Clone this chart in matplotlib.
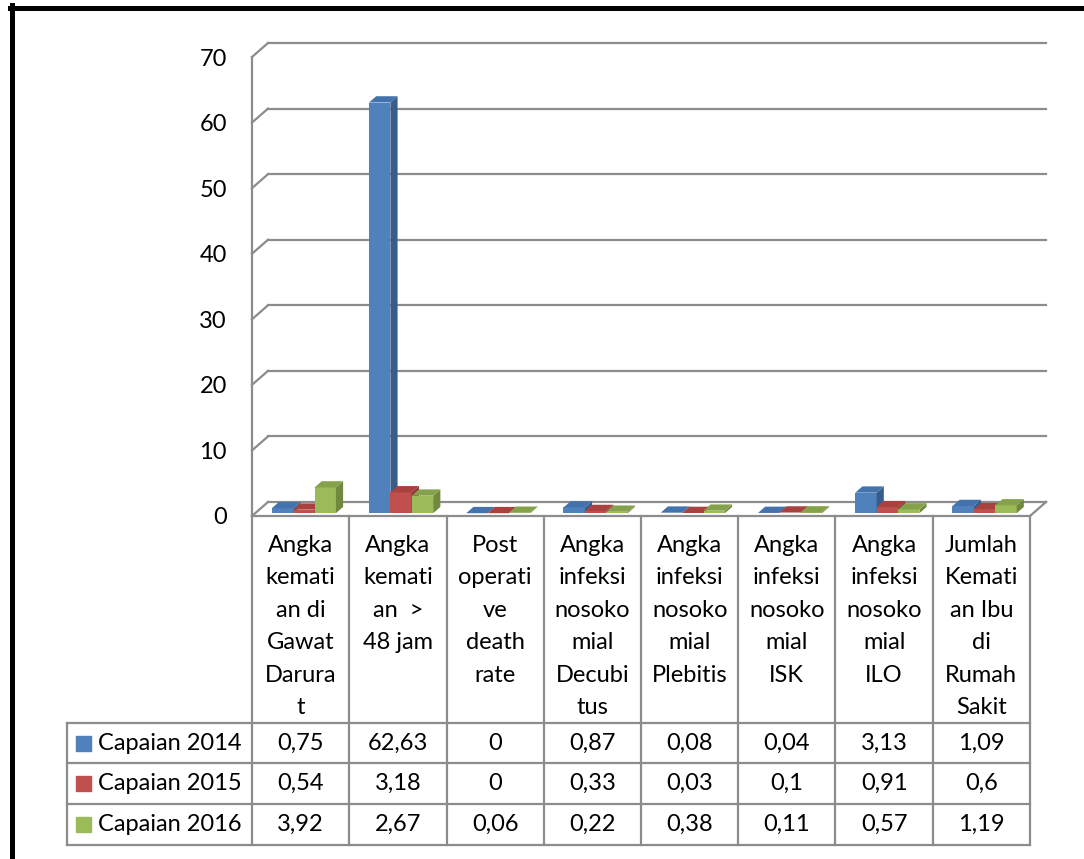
import matplotlib
matplotlib.use('Agg')
from matplotlib import pyplot as plt
from matplotlib.patches import Polygon, Rectangle
from matplotlib.lines import Line2D
from matplotlib.transforms import blended_transform_factory

# data
categories = ["Angka\nkemati\nan di\nGawat\nDarura\nt",
              "Angka\nkemati\nan  >\n48 jam",
              "Post\noperati\nve\ndeath\nrate",
              "Angka\ninfeksi\nnosoko\nmial\nDecubi\ntus",
              "Angka\ninfeksi\nnosoko\nmial\nPlebitis",
              "Angka\ninfeksi\nnosoko\nmial\nISK",
              "Angka\ninfeksi\nnosoko\nmial\nILO",
              "Jumlah\nKemati\nan Ibu\ndi\nRumah\nSakit"]
series_names = ["Capaian 2014", "Capaian 2015", "Capaian 2016"]
capaian_2014 = [0.75, 62.63, 0, 0.87, 0.08, 0.04, 3.13, 1.09]
capaian_2015 = [0.54, 3.18, 0, 0.33, 0.03, 0.1, 0.91, 0.6]
capaian_2016 = [3.92, 2.67, 0.06, 0.22, 0.38, 0.11, 0.57, 1.19]
y_ticks = [0, 10, 20, 30, 40, 50, 60, 70]

series = [capaian_2014, capaian_2015, capaian_2016]
front_c = ['#4F81BD', '#C0504D', '#9BBB59']
top_c = ['#4372AC', '#A9423F', '#85A24A']
side_c = ['#385D8A', '#8C3836', '#71893F']
grid_c = '#8C8C8C'

plt.rcParams['font.family'] = ['Lato', 'DejaVu Sans']
FS = 17

W, H = 1084, 859
def fx(px):
    return px / W
def fy(py):
    return 1 - py / H

fig = plt.figure(figsize=(W / 100, H / 100), dpi=100)

# axes: x in category units (97.25 px each), y in value units (6.557 px each)
xpx, ypx = 97.25, 6.557
x0, x1, y0, y1 = -0.2, 8.4, -1, 73
left = 252 + x0 * xpx
bottom = 516 - y0 * ypx
ax = fig.add_axes([fx(left), fy(bottom), (x1 - x0) * xpx / W, (y1 - y0) * ypx / H])
ax.set_xlim(x0, x1)
ax.set_ylim(y0, y1)
for s in ax.spines.values():
    s.set_visible(False)
ax.set_xticks([])
ax.set_yticks(y_ticks)
ax.set_yticklabels([str(t) for t in y_ticks], fontsize=FS)
ax.tick_params(axis='y', length=0, pad=4)
ax.patch.set_alpha(0)

# 3D depth of the box
Dx, Dy = 16 / xpx, 14 / ypx
ncat = len(categories)

# back wall gridlines and left wall diagonals
for t in y_ticks:
    ax.plot([Dx, ncat + Dx], [t + Dy, t + Dy], color=grid_c, lw=1.6, clip_on=False, zorder=1)
    ax.plot([0, Dx], [t, t + Dy], color=grid_c, lw=1.6, clip_on=False, zorder=1)
ax.plot([0, 0], [0, y_ticks[-1]], color=grid_c, lw=1.6, clip_on=False, zorder=1)
ax.plot([0, ncat], [0, 0], color=grid_c, lw=1.6, clip_on=False, zorder=1)
ax.plot([ncat, ncat + Dx], [0, Dy], color=grid_c, lw=1.6, clip_on=False, zorder=1)

# 3D bars
w = 0.22
f0, f1 = 0.2, 0.65
ox0, oy0 = Dx * f0, Dy * f0
ox1, oy1 = Dx * f1, Dy * f1
ddx = ox1 - ox0
z = 3
for i in range(ncat):
    for j, vals in enumerate(series):
        v = vals[i]
        xb = i + 0.17 + j * w + ox0
        ax.bar(xb, v, width=w, bottom=oy0, align='edge', color=front_c[j],
               linewidth=0, zorder=z, clip_on=False)
        side = [(xb + w, oy0), (xb + w, v + oy0), (xb + w + ddx, v + oy1), (xb + w + ddx, oy1)]
        ax.add_patch(Polygon(side, closed=True, facecolor=side_c[j], lw=0, zorder=z, clip_on=False))
        top = [(xb, v + oy0), (xb + w, v + oy0), (xb + w + ddx, v + oy1), (xb + ddx, v + oy1)]
        ax.add_patch(Polygon(top, closed=True, facecolor=top_c[j], lw=0, zorder=z, clip_on=False))
        z += 1

# data table
trans = blended_transform_factory(ax.transData, fig.transFigure)
row_y = [723, 763, 804, 845]
for i in range(ncat + 1):
    fig.add_artist(Line2D([i, i], [fy(516), fy(845)], transform=trans, color=grid_c, lw=1.6))
for ry in row_y:
    fig.add_artist(Line2D([fx(67), fx(252 + ncat * xpx)], [fy(ry), fy(ry)], color=grid_c, lw=1.6))
fig.add_artist(Line2D([fx(67), fx(67)], [fy(723), fy(845)], color=grid_c, lw=1.6))

for i, lab in enumerate(categories):
    for k, line in enumerate(lab.split('\n')):
        fig.text(0, fy(545 + k * 32.6), line, transform=trans, fontsize=FS,
                 ha='center', va='center')
        fig.texts[-1].set_x(i + 0.5)

for j, (name, vals) in enumerate(zip(series_names, series)):
    cy = (row_y[j] + row_y[j + 1]) / 2
    fig.add_artist(Rectangle((fx(76), fy(cy + 7.5)), 15 / W, 15 / H, color=front_c[j],
                             transform=fig.transFigure))
    fig.text(fx(98), fy(cy), name, fontsize=FS, ha='left', va='center')
    for i, v in enumerate(vals):
        fig.text(i + 0.5, fy(cy), f"{v:g}".replace('.', ','), transform=trans,
                 fontsize=FS, ha='center', va='center')

# outer frame
fig.add_artist(Line2D([fx(12), fx(12)], [fy(5), fy(H)], color='black', lw=3.6))
fig.add_artist(Line2D([fx(10), fx(W)], [fy(7.5), fy(7.5)], color='black', lw=3.6))

fig.savefig('out.png', dpi=100)
